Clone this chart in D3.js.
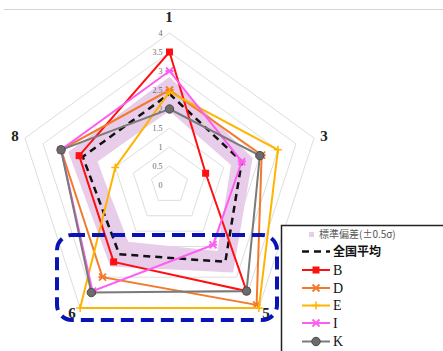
<!DOCTYPE html>
<html>
<head>
<meta charset="utf-8">
<script src="https://cdn.jsdelivr.net/npm/d3@7"></script>
<style>
  html, body { margin: 0; padding: 0; background: #fff; }
  svg { display: block; }
</style>
</head>
<body>
<svg id="chart" width="443" height="351"></svg>
<script>
// Radar chart: five items, national average with ±0.5σ band, and five schools.
const axes = ["1", "3", "5", "6", "8"];
const ticks = [0, 0.5, 1, 1.5, 2, 2.5, 3, 3.5, 4];
const avg = [2.4, 2.0, 2.5, 2.25, 2.4];
const halfSigma = [0.45, 0.3, 0.35, 0.4, 0.4];
const seriesB = [3.5, 1.0, 3.45, 2.5, 2.5];
const seriesD = [2.5, 2.55, 3.9, 3.0, 3.0];
const seriesE = [2.45, 3.0, 4.0, 4.0, 1.5];
const seriesI = [3.0, 2.0, 1.95, 3.45, 3.0];
const seriesK = [2.0, 2.5, 3.45, 3.5, 3.0];
const legendLabels = ["標準偏差(±0.5σ)", "全国平均", "B", "D", "E", "I", "K"];

const series = [
  { name: "B", values: seriesB, color: "#ff1010", marker: "square" },
  { name: "D", values: seriesD, color: "#f27a2a", marker: "star" },
  { name: "E", values: seriesE, color: "#ffb400", marker: "plus" },
  { name: "I", values: seriesI, color: "#ff5cf2", marker: "star" },
  { name: "K", values: seriesK, color: "#7a7a7a", marker: "circle" }
];

const svg = d3.select("#chart");
const cx = 169.5, cy = 185, R = 152;

const r = d3.scaleLinear().domain([0, 4]).range([0, R]);
const angle = d3.scalePoint().domain(axes).range([0, 2 * Math.PI * (axes.length - 1) / axes.length]);

function pt(axis, v) {
  const a = angle(axis) - Math.PI / 2;
  return [cx + r(v) * Math.cos(a), cy + r(v) * Math.sin(a)];
}
const ring = vals => d3.line().curve(d3.curveLinearClosed)(axes.map((ax, i) => pt(ax, vals[i])));

// top rule
svg.append("line").attr("x1", 4).attr("x2", 443).attr("y1", 9.5).attr("y2", 9.5)
  .attr("stroke", "#d4d4d4").attr("stroke-width", 1);

// grid rings
svg.append("g").selectAll("path").data(ticks.filter(t => t > 0)).join("path")
  .attr("d", t => ring(axes.map(() => t)))
  .attr("fill", "none").attr("stroke", "#dedede").attr("stroke-width", 1);

// ±0.5σ band around the national average
const upper = avg.map((v, i) => v + halfSigma[i]);
const lower = avg.map((v, i) => v - halfSigma[i]);
svg.append("path")
  .attr("d", ring(upper) + ring(lower))
  .attr("fill-rule", "evenodd")
  .attr("fill", "#e8cdeb");

// radial tick labels along the first axis
svg.append("g").selectAll("text").data(ticks).join("text")
  .attr("x", cx - 7).attr("y", t => cy - r(t))
  .attr("dy", "0.35em").attr("text-anchor", "end")
  .attr("font-family", "Liberation Serif, serif").attr("font-size", 8)
  .attr("fill", "#6a6a6a").text(t => t);

// axis labels
const labelPos = { "1": [169, 22], "3": [324, 141], "5": [266, 318], "6": [72, 318], "8": [15, 141] };
svg.append("g").selectAll("text").data(axes).join("text")
  .attr("x", d => labelPos[d][0]).attr("y", d => labelPos[d][1])
  .attr("text-anchor", "middle")
  .attr("font-family", "Liberation Serif, serif").attr("font-weight", "bold")
  .attr("font-size", 15).attr("fill", "#222").text(d => d);

// national average
svg.append("path").attr("d", ring(avg))
  .attr("fill", "none").attr("stroke", "#111").attr("stroke-width", 2.5)
  .attr("stroke-dasharray", "7,5");

function drawMarker(g, type, color, x, y) {
  if (type === "square") {
    g.append("rect").attr("x", x - 3.5).attr("y", y - 3.5).attr("width", 7).attr("height", 7).attr("fill", color);
  } else if (type === "circle") {
    g.append("circle").attr("cx", x).attr("cy", y).attr("r", 4.2)
      .attr("fill", "#6b6b6b").attr("stroke", "#4a4a4a").attr("stroke-width", 1);
  } else if (type === "plus") {
    g.append("path").attr("d", `M${x - 4},${y}H${x + 4}M${x},${y - 4}V${y + 4}`)
      .attr("stroke", color).attr("stroke-width", 1.5);
  } else if (type === "star") {
    g.append("path").attr("d", `M${x - 3.5},${y - 3.5}L${x + 3.5},${y + 3.5}M${x - 3.5},${y + 3.5}L${x + 3.5},${y - 3.5}M${x - 4},${y}H${x + 4}`)
      .attr("stroke", color).attr("stroke-width", 1.8);
  }
}

// school series
series.forEach(s => {
  const g = svg.append("g");
  g.append("path").attr("d", ring(s.values))
    .attr("fill", "none").attr("stroke", s.color).attr("stroke-width", 2);
  axes.forEach((ax, i) => {
    const [x, y] = pt(ax, s.values[i]);
    drawMarker(g, s.marker, s.color, x, y);
  });
});

// highlight frame around items 5 and 6
svg.append("rect").attr("x", 57).attr("y", 235).attr("width", 220).attr("height", 85)
  .attr("rx", 15).attr("ry", 15)
  .attr("fill", "none").attr("stroke", "#0a14b4").attr("stroke-width", 4)
  .attr("stroke-dasharray", "13,7");

// legend
const lg = svg.append("g");
lg.append("rect").attr("x", 281.5).attr("y", 225.5).attr("width", 170).attr("height", 140)
  .attr("fill", "#fff").attr("stroke", "#222").attr("stroke-width", 1.5);
const rowsY = [234.5, 251.5, 270, 288, 305.5, 323, 341.5];
const lx0 = 302, lx1 = 330, tx = 333;
// band swatch
lg.append("rect").attr("x", 309).attr("y", rowsY[0] - 2.5).attr("width", 5).attr("height", 5)
  .attr("fill", "#e8cdeb");
lg.append("text").attr("x", 319).attr("y", rowsY[0]).attr("dy", "0.35em")
  .attr("font-family", "Noto Sans CJK JP, sans-serif").attr("font-size", 10)
  .attr("fill", "#555").text(legendLabels[0]);
// average swatch
lg.append("line").attr("x1", lx0).attr("x2", lx1).attr("y1", rowsY[1]).attr("y2", rowsY[1])
  .attr("stroke", "#111").attr("stroke-width", 2.5).attr("stroke-dasharray", "7,5");
lg.append("text").attr("x", tx).attr("y", rowsY[1]).attr("dy", "0.35em")
  .attr("font-family", "Noto Sans CJK JP, sans-serif").attr("font-weight", "bold").attr("font-size", 12)
  .attr("fill", "#111").text(legendLabels[1]);
series.forEach((s, i) => {
  const y = rowsY[i + 2];
  lg.append("line").attr("x1", lx0).attr("x2", lx1).attr("y1", y).attr("y2", y)
    .attr("stroke", s.color).attr("stroke-width", 2);
  drawMarker(lg, s.marker, s.color, (lx0 + lx1) / 2, y);
  lg.append("text").attr("x", tx).attr("y", y).attr("dy", "0.35em")
    .attr("font-family", "Liberation Serif, serif").attr("font-size", 14)
    .attr("fill", "#111").text(legendLabels[i + 2]);
});
</script>
</body>
</html>
